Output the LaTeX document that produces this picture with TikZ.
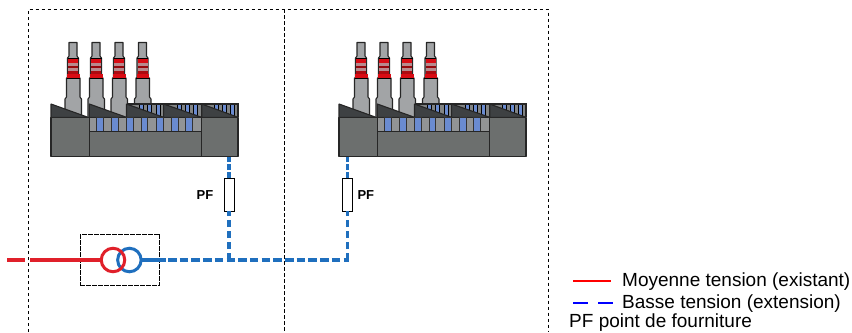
\documentclass[tikz,border=0pt]{standalone}
\usepackage{fontspec}
\setmainfont{Liberation Sans}
\definecolor{roofc}{HTML}{3E4143}
\definecolor{basec}{HTML}{6C6F6E}
\definecolor{chimc}{HTML}{A2A4A6}
\definecolor{winc}{HTML}{6A8BD0}
\definecolor{redc}{HTML}{D80C14}
\definecolor{pinkc}{HTML}{B88A8E}
\definecolor{linered}{HTML}{E0202A}
\definecolor{lineblue}{HTML}{1F6FBE}
\definecolor{legblue}{HTML}{0000FF}
\definecolor{legred}{HTML}{FF0000}
\tikzset{
  x=1bp,y=-1bp,
  outl/.style={draw=black!85,line width=1.1bp,line join=bevel},
  framedash/.style={draw=black,line width=.7bp,dash pattern=on 3.5bp off 2.5bp},
  mv/.style={draw=linered,line width=3.2bp},
  bv/.style={draw=lineblue,line width=3.2bp},
  bvdash/.style={bv,dash pattern=on 8.5bp off 3.2bp},
  bvvert/.style={bv,dash pattern=on 7.5bp off 3.5bp},
  pfbox/.style={draw=black,fill=white,line width=.9bp,minimum width=10bp,minimum height=33.3bp,inner sep=0pt,outer sep=0pt},
  pflabel/.style={font=\fontsize{13bp}{15bp}\selectfont\bfseries,inner sep=0pt},
  legendtext/.style={font=\fontsize{19bp}{21bp}\selectfont,inner sep=0pt,anchor=base west},
}
\newcommand{\chimney}[1]{%
  \begin{scope}[shift={(#1,0)}]
    \filldraw[outl,fill=chimc] (0,42.5) -- (8,42.5) -- (8,56) -- (9.5,58) -- (9.5,78) -- (11,78) -- (11,97) -- (12.5,99) -- (12.5,118) -- (-4,118) -- (-4,99) -- (-2.5,97) -- (-2.5,78) -- (-1.5,78) -- (-1.5,58) -- (0,56) -- cycle;
    \fill[redc] (-1,58) rectangle (9,62.5);
    \fill[pinkc] (-1,62.5) rectangle (9,65.5);
    \fill[redc!70!black] (-1,65.5) rectangle (9,67.5);
    \fill[pinkc] (-1,67.5) rectangle (9,71);
    \fill[redc!80!black] (-1,71) rectangle (9,74);
    \fill[redc] (-2,74) rectangle (10.5,78);
    \draw[black,line width=.8bp] (-1.5,58) -- (9.5,58) (-2.5,78) -- (11,78);
  \end{scope}}
\newcommand{\roofpart}[2]{%
  \filldraw[outl,fill=roofc] (#1,104) -- (#2,117.3) -- (#1,117.3) -- cycle;}
\newcommand{\roofwin}[1]{%
  \fill[basec!60!chimc] (#1,104.5) rectangle (#1+37,117);
  \foreach \s in {13,21,29.5}{\fill[winc] (#1+\s,104.5) rectangle (#1+\s+4.2,117);
    \draw[black,line width=.5bp] (#1+\s,104.5) -- (#1+\s,117) (#1+\s+4.2,104.5) -- (#1+\s+4.2,117);}}
\newcommand{\factory}[1]{%
  \begin{scope}[shift={(#1,0)}]
    \chimney{69}\chimney{92}\chimney{115}\chimney{138.5}
    \roofwin{126.5}\roofwin{164}\roofwin{201}
    \draw[black!85,line width=1.1bp] (126.5,104) -- (238,104) -- (238,117);
    \roofpart{51}{88}\roofpart{89.3}{126.5}\roofpart{126.5}{163.6}\roofpart{163.6}{201.7}\roofpart{201.7}{238}
    \filldraw[outl,fill=basec] (51,117.3) rectangle (89.3,156.7);
    \filldraw[outl,fill=chimc!70!basec] (89.3,117.3) rectangle (201.7,131.7);
    \foreach \s in {96.7,111.4,126.1,140.9,156.6,171,185.7}{
      \filldraw[draw=black!80,line width=.5bp,fill=winc] (\s,117.5) rectangle (\s+6.8,131.5);}
    \filldraw[outl,fill=basec] (89.3,131.7) rectangle (201.7,156.7);
    \filldraw[outl,fill=basec] (201.7,117.3) rectangle (238,156.7);
  \end{scope}}
\begin{document}
\begin{tikzpicture}
\useasboundingbox (0,0) rectangle (852,332);
\coordinate (ftl) at (28.5,9);
\coordinate (ftm) at (284.5,9);
\coordinate (ftr) at (548,9);
\coordinate (fbl) at (28.5,332);
\coordinate (fbm) at (284.5,332);
\coordinate (fbr) at (548,332);
\draw[framedash] (fbl) -- (ftl) -- (ftr) -- (fbr);
\draw[framedash] (ftm) -- (fbm);
\factory{0}
\factory{288}
\coordinate (fa) at (229,156.7);
\coordinate (fb) at (347.7,156.7);
\node[pfbox] (pfa) at (229,194.7) {};
\node[pfbox] (pfb) at (347.7,194.7) {};
\node[pflabel,anchor=east] (pfla) at (213.5,194.7) {PF};
\node[pflabel,anchor=west] (pflb) at (357.3,194.7) {PF};
\node[draw=black,line width=.7bp,dash pattern=on 5bp off 1bp,minimum width=79.5bp,minimum height=51.5bp,inner sep=0pt,outer sep=0pt] (tr) at (119.8,260) {};
\coordinate (mvs) at (7,260);
\coordinate (mvb) at (25,260);
\coordinate (mvc) at (30,260);
\coordinate (bvs) at (166,260);
\coordinate (bvd) at (168,260);
\coordinate (ja) at (229,260);
\coordinate (jb) at (349,260);
\coordinate (jbv) at (347.7,260);
\draw[mv] (mvs) -- (mvb);
\node[circle,draw=lineblue,line width=3bp,minimum size=23.5bp,inner sep=0pt,outer sep=0pt] (cb) at (129.4,260) {};
\node[circle,draw=linered,line width=3bp,minimum size=23.5bp,inner sep=0pt,outer sep=0pt] (cr) at (113,260) {};
\draw[mv] (mvc) -- (cr.west);
\draw[bv] (cb.east) -- (bvs);
\draw[bvdash] (bvd) -- (jb);
\draw[bvvert] (jbv) -- (pfb.south);
\draw[bvvert] (ja) -- (pfa.south);
\draw[bv,dash pattern=on 6bp off 2bp] (pfa.north) -- (fa);
\draw[bv,dash pattern=on 6bp off 2bp] (pfb.north) -- (fb);
\coordinate (lra) at (573,281);
\coordinate (lrb) at (611,281);
\coordinate (lba) at (573,303);
\coordinate (lbb) at (613,303);
\draw[legred,line width=1.5bp] (lra) -- (lrb);
\draw[legblue,line width=2bp,dash pattern=on 14.5bp off 10.5bp] (lba) -- (lbb);
\node[legendtext] (l1) at (622,286.5) {Moyenne tension (existant)};
\node[legendtext] (l2) at (622,308.5) {Basse tension (extension)};
\node[legendtext] (l3) at (569,327.5) {PF point de fourniture};
\end{tikzpicture}
\end{document}
